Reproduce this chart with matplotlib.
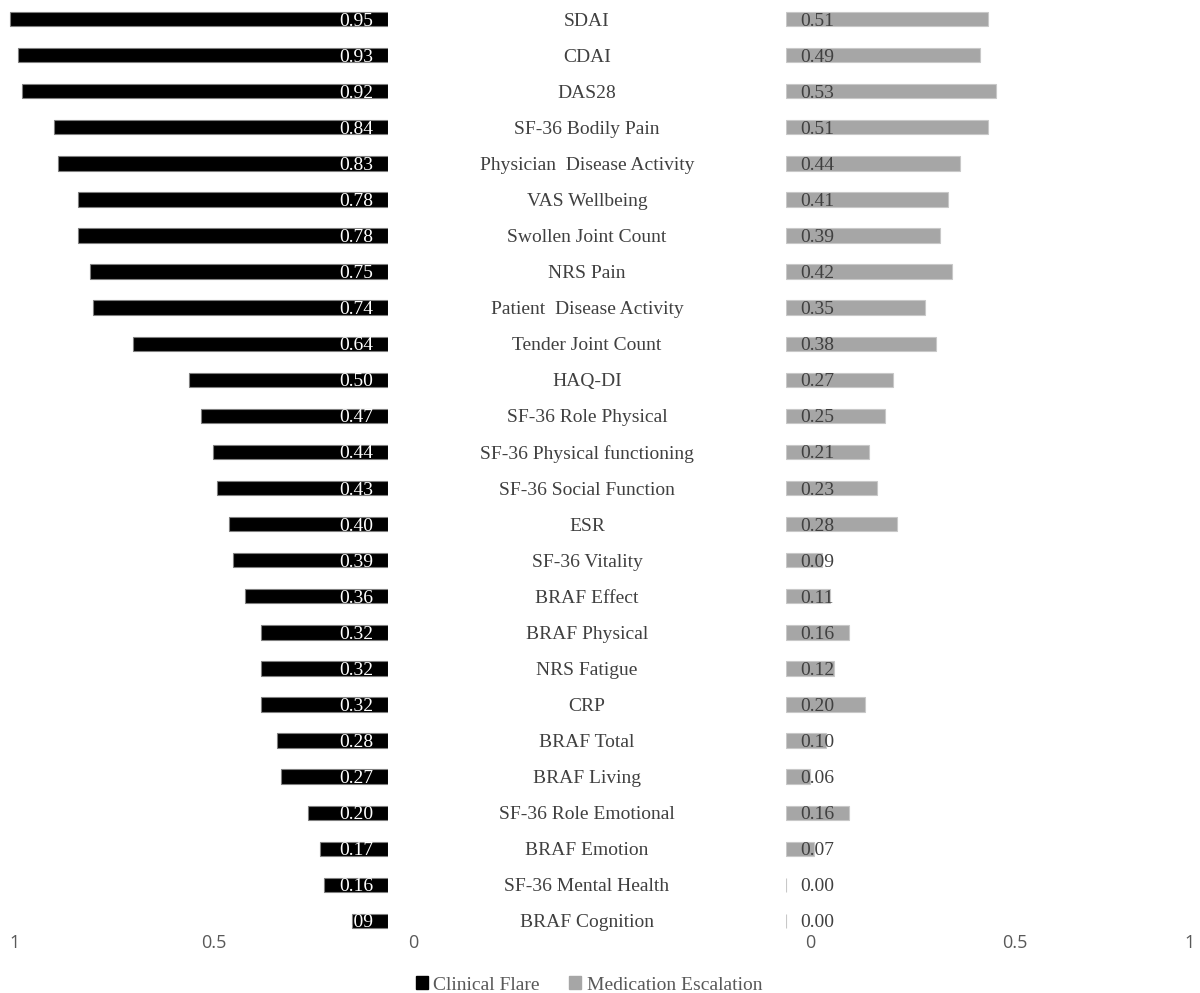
import numpy as np
import matplotlib.pyplot as plt
from matplotlib.patches import Patch
from matplotlib.transforms import ScaledTranslation, blended_transform_factory

# data, top to bottom
measures = [
	"SDAI", "CDAI", "DAS28", "SF-36 Bodily Pain", "Physician  Disease Activity",
	"VAS Wellbeing", "Swollen Joint Count", "NRS Pain", "Patient  Disease Activity",
	"Tender Joint Count", "HAQ-DI", "SF-36 Role Physical", "SF-36 Physical functioning",
	"SF-36 Social Function", "ESR", "SF-36 Vitality", "BRAF Effect", "BRAF Physical",
	"NRS Fatigue", "CRP", "BRAF Total", "BRAF Living", "SF-36 Role Emotional",
	"BRAF Emotion", "SF-36 Mental Health", "BRAF Cognition",
]
clinical_flare = [0.95, 0.93, 0.92, 0.84, 0.83, 0.78, 0.78, 0.75, 0.74, 0.64, 0.50, 0.47, 0.44,
				  0.43, 0.40, 0.39, 0.36, 0.32, 0.32, 0.32, 0.28, 0.27, 0.20, 0.17, 0.16, 0.09]
med_escalation = [0.51, 0.49, 0.53, 0.51, 0.44, 0.41, 0.39, 0.42, 0.35, 0.38, 0.27, 0.25, 0.21,
				  0.23, 0.28, 0.09, 0.11, 0.16, 0.12, 0.20, 0.10, 0.06, 0.16, 0.07, 0.00, 0.00]
tick_vals = [1, 0.5, 0]
tick_text = ["1", "0.5", "0"]

serif = ['Liberation Serif', 'DejaVu Serif']
sans = ['Open Sans', 'DejaVu Sans']

W, H = 1200, 993
fig = plt.figure(figsize=(W / 100, H / 100), dpi=100)

top = 1 - 1 / H
bottom = 1 - 939 / H
ax_l = fig.add_axes([0, bottom, 388 / W, top - bottom])
ax_r = fig.add_axes([786 / W, bottom, (W - 786) / W, top - bottom])

y = np.arange(len(measures))
bar_h = 0.40

ax_l.barh(y, clinical_flare, height=bar_h, color='black', edgecolor='#7f7f7f', linewidth=0.8)
ax_r.barh(y, med_escalation, height=bar_h, color='#a6a6a6', edgecolor='#c8c8c8', linewidth=0.8)

ax_l.set_xlim(388 / 398, 0)
ax_r.set_xlim(0, (W - 786) / 396)
for ax in (ax_l, ax_r):
	ax.set_ylim(len(measures) - 0.5, -0.5)
	ax.set_yticks([])
	ax.set_xticks([])
	for s in ax.spines.values():
		s.set_visible(False)

# value labels
for yi, v in zip(y, clinical_flare):
	ax_l.annotate(f"{v:.2f}", (0, yi), xytext=(-15, -2), textcoords='offset pixels',
				  ha='right', va='center', color='white', fontsize=14, family=serif)
for yi, v in zip(y, med_escalation):
	ax_r.annotate(f"{v:.2f}", (0, yi), xytext=(14, -2), textcoords='offset pixels',
				  ha='left', va='center', color='#404040', fontsize=14, family=serif)

# category names in the middle
trans = blended_transform_factory(fig.transFigure, ax_l.transData)
for yi, name in zip(y, measures):
	fig.text(587 / W, yi, name, transform=trans + ScaledTranslation(0, -2 / 100, fig.dpi_scale_trans),
			 ha='center', va='center', fontsize=14, color='#404040', family=serif)

# axis tick labels (Excel style, shifted off the bars)
for ax, vals, texts, shifts in [(ax_l, tick_vals, tick_text, [25, 25, 25]),
								(ax_r, tick_vals[::-1], tick_text[::-1], [24, 31, 8])]:
	tr = blended_transform_factory(ax.transData, ax.transAxes)
	for v, t, dx in zip(vals, texts, shifts):
		ax.text(v, 0, t, transform=tr + ScaledTranslation(dx / 100, -4 / 100, fig.dpi_scale_trans),
				ha='center', va='center', fontsize=13, color='#595959', family=sans)

legend_elements = [
	Patch(facecolor='black', edgecolor='black', label='Clinical Flare'),
	Patch(facecolor='#a6a6a6', edgecolor='#a6a6a6', label='Medication Escalation'),
]
fig.legend(handles=legend_elements, loc='center', bbox_to_anchor=(589 / W, 1 - 985 / H),
		   ncol=2, frameon=False, handlelength=0.6, handleheight=0.6, handletextpad=0.3,
		   columnspacing=1.5, prop={'family': serif, 'size': 14}, labelcolor='#595959')

fig.savefig('out.png', dpi=100)
